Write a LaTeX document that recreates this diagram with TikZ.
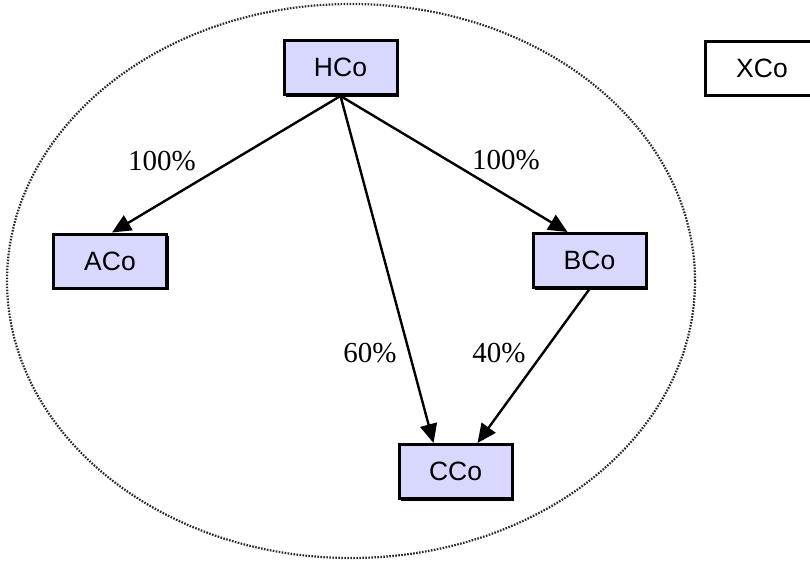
\documentclass[tikz,border=0pt]{standalone}
\usepackage{fontspec}
\newfontfamily\boxfont{Liberation Sans}
\newfontfamily\labfont{Liberation Serif}
\usetikzlibrary{arrows.meta,shadows,calc}
\definecolor{boxfill}{RGB}{216,216,255}
\definecolor{ringcol}{RGB}{40,40,40}
\tikzset{
  cobox/.style={draw=black, line width=3pt, fill=boxfill, minimum width=113pt,
    minimum height=54pt, inner sep=0pt, font=\boxfont\fontsize{26.5}{30}\selectfont,
    drop shadow={shadow xshift=2pt, shadow yshift=-2pt, fill=black, opacity=1}},
  plainbox/.style={cobox, fill=white},
  own/.style={line width=2.4pt, -{Triangle[length=19pt,width=17pt]}},
  pct/.style={font=\labfont\fontsize{29}{32}\selectfont, inner sep=0pt},
  ring/.style={draw=ringcol, line width=2.2pt, dash pattern=on 1.6pt off 1.4pt}
}
\begin{document}
\begin{tikzpicture}[x=1pt,y=-1pt]
\useasboundingbox (0,0) rectangle (810,562);
\draw[ring] (351,281) ellipse [x radius=344pt, y radius=277pt];
\node[cobox] (H) at (340.5,67.5) {HCo};
\node[cobox] (A) at (110,261) {ACo};
\node[cobox] (B) at (589.5,260.5) {BCo};
\node[cobox] (C) at (455.5,471.5) {CCo};
\node[plainbox] (X) at (762,68) {XCo};
\node[pct] (l1) at (162,161) {100\%};
\node[pct] (l2) at (506,160) {100\%};
\node[pct] (l3) at (370,353) {60\%};
\node[pct] (l4) at (499,353) {40\%};
\draw[own] (H.south) -- ($(A.north)+(2,0)$);
\draw[own] (H.south) -- ($(B.north)+(-22,0)$);
\draw[own] (H.south) -- ($(C.north)+(-22,0)$);
\draw[own] (B.south) -- ($(C.north)+(22,0)$);
\end{tikzpicture}
\end{document}
